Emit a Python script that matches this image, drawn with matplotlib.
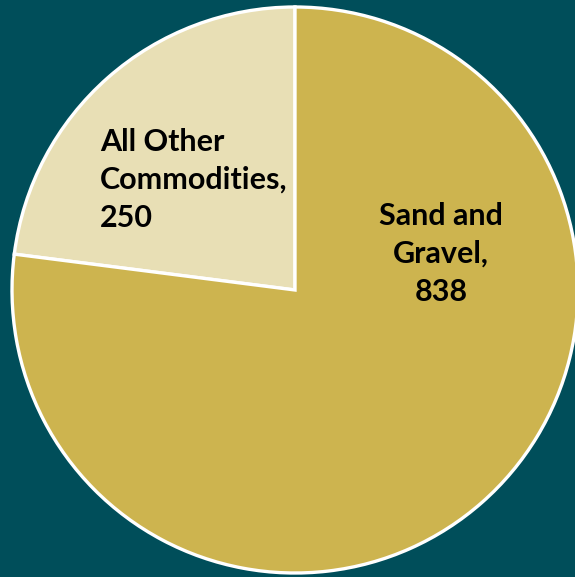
import matplotlib.pyplot as plt

categories = ["All Other\nCommodities,", "Sand and\nGravel,"]
values = [250, 838]
colors = ["#E8DFB5", "#CDB44F"]

bg = "#004E5A"
fig = plt.figure(figsize=(5.75, 5.77), dpi=100)
fig.patch.set_facecolor(bg)
ax = fig.add_axes([0, 0, 1, 1])
ax.set_facecolor(bg)

# pie drawn in pixel-like data units
ax.pie(values, colors=colors, startangle=90, counterclock=True,
       center=(295, 577 - 290), radius=283,
       wedgeprops=dict(edgecolor="white", linewidth=2.4))
ax.set_xlim(0, 575)
ax.set_ylim(0, 577)
ax.set_aspect("equal")
ax.axis("off")

font = dict(family=["Lato", "DejaVu Sans"], fontsize=22, fontweight="bold",
            color="black", linespacing=1.42)
ax.text(100, 577 - 180, f"{categories[0]}\n{values[0]}", ha="left",
        va="center", **font)
ax.text(441, 577 - 254, f"{categories[1]}\n{values[1]}", ha="center",
        va="center", **font)

plt.savefig("out.png", dpi=100, facecolor=bg)
